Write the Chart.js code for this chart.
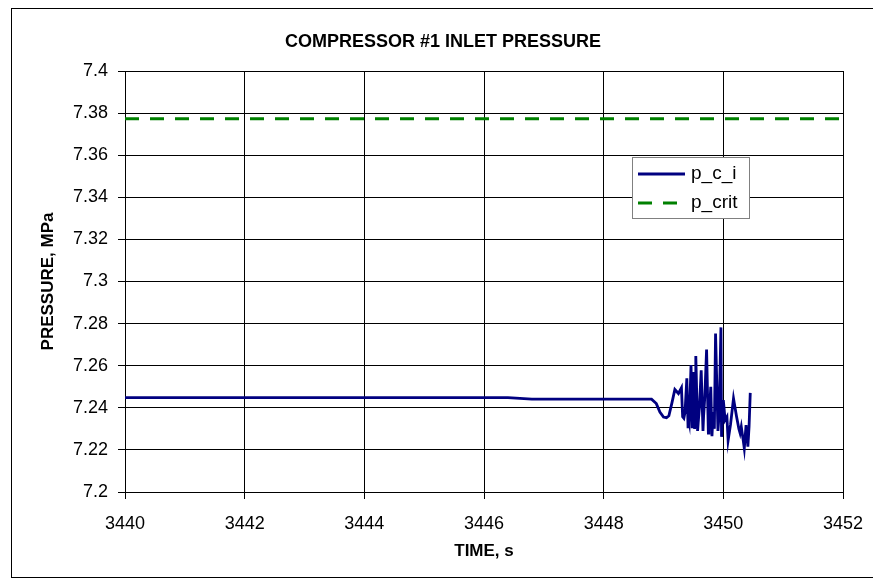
<!DOCTYPE html>
<html>
<head>
<meta charset="utf-8">
<title>Compressor #1 inlet pressure</title>
<script src="https://cdn.jsdelivr.net/npm/chart.js@4.4.1/dist/chart.umd.min.js"></script>
<style>
    html, body { margin: 0; padding: 0; background: #fff; }
    #wrap { width: 873px; height: 579px; }
</style>
</head>
<body>
<div id="wrap"><canvas id="pressureChart" width="873" height="579"></canvas></div>
<script>
const chartTitle = "COMPRESSOR #1 INLET PRESSURE";
const xTitle = "TIME, s";
const yTitle = "PRESSURE, MPa";

const xTicks = [3440, 3442, 3444, 3446, 3448, 3450, 3452];
const xTickLabels = ["3440", "3442", "3444", "3446", "3448", "3450", "3452"];
const yTicks = [7.2, 7.22, 7.24, 7.26, 7.28, 7.3, 7.32, 7.34, 7.36, 7.38, 7.4];
const yTickLabels = ["7.2", "7.22", "7.24", "7.26", "7.28", "7.3", "7.32", "7.34", "7.36", "7.38", "7.4"];

// p_c_i
const timeS = [3440, 3446.4, 3446.8, 3448.80, 3448.88, 3448.94, 3449.00, 3449.05, 3449.09, 3449.14, 3449.19,
    3449.25, 3449.30, 3449.32, 3449.34, 3449.36, 3449.39, 3449.41, 3449.42, 3449.43, 3449.46, 3449.48, 3449.49,
    3449.50, 3449.52, 3449.53, 3449.54, 3449.57, 3449.58, 3449.60, 3449.63, 3449.66, 3449.67, 3449.69, 3449.72,
    3449.75, 3449.76, 3449.79, 3449.81, 3449.83, 3449.85, 3449.87, 3449.91, 3449.93, 3449.96, 3449.97, 3450.00,
    3450.03, 3450.06, 3450.08, 3450.12, 3450.17, 3450.22, 3450.26, 3450.28, 3450.30, 3450.33, 3450.35, 3450.38,
    3450.41, 3450.43, 3450.45];
const pressureMPa = [7.2448, 7.2448, 7.2441, 7.2441, 7.2420, 7.2380, 7.2356, 7.2353, 7.2362, 7.2422, 7.2487,
    7.2468, 7.2495, 7.2357, 7.2350, 7.2380, 7.2540, 7.2310, 7.2345, 7.2330, 7.2603, 7.2310, 7.2360,
    7.2570, 7.2300, 7.2350, 7.2646, 7.2290, 7.2330, 7.2400, 7.2578, 7.2290, 7.2360, 7.2450, 7.2677,
    7.2280, 7.2340, 7.2500, 7.2265, 7.2380, 7.2300, 7.2753, 7.2290, 7.2370, 7.2782, 7.2262, 7.2437,
    7.2342, 7.2357, 7.2245, 7.2320, 7.2444, 7.2360, 7.2300, 7.2280, 7.2310, 7.2250, 7.2208, 7.2318,
    7.2215, 7.2310, 7.2471];

// p_crit
const critTimeS = [3440, 3452];
const critPressureMPa = [7.3773, 7.3773];

const fontFamily = "'Liberation Sans', Arial, sans-serif";

function toPoints(xs, ys) {
    return xs.map((x, i) => ({ x: x, y: ys[i] }));
}

// title, legend and outer frame drawn on top of the plot
const extrasPlugin = {
    id: 'extras',
    afterDraw(chart) {
        const c = chart.ctx;
        c.save();

        c.strokeStyle = "#000";
        c.lineWidth = 1;
        c.strokeRect(11.5, 8.5, 880, 569);

        c.fillStyle = "#000";
        c.font = "bold 18px " + fontFamily;
        c.textAlign = "center";
        c.textBaseline = "middle";
        c.fillText(chartTitle, 443, 42);

        // legend box
        const lx = 632, ly = 157, lw = 117, lh = 61;
        c.fillStyle = "#fff";
        c.fillRect(lx, ly, lw, lh);
        c.strokeStyle = "#808080";
        c.strokeRect(lx + 0.5, ly + 0.5, lw, lh);

        chart.data.datasets.forEach((ds, i) => {
            const y = 174 + i * 29;
            c.strokeStyle = ds.borderColor;
            c.lineWidth = ds.borderWidth;
            c.setLineDash(ds.borderDash || []);
            c.beginPath();
            c.moveTo(638, y);
            c.lineTo(685, y);
            c.stroke();
            c.setLineDash([]);
            c.fillStyle = "#000";
            c.font = "19px " + fontFamily;
            c.textAlign = "left";
            c.textBaseline = "middle";
            c.fillText(ds.label, 691, y);
        });
        c.restore();
    }
};

const ctx = document.getElementById('pressureChart').getContext('2d');
const pressureChart = new Chart(ctx, {
    type: 'scatter',
    data: {
        datasets: [{
            label: 'p_c_i',
            data: toPoints(timeS, pressureMPa),
            showLine: true,
            borderColor: '#000080',
            borderWidth: 2.8,
            pointRadius: 0,
            tension: 0
        }, {
            label: 'p_crit',
            data: toPoints(critTimeS, critPressureMPa),
            showLine: true,
            borderColor: '#008000',
            borderWidth: 3,
            borderDash: [14, 11],
            pointRadius: 0
        }]
    },
    options: {
        responsive: false,
        animation: false,
        layout: { padding: { top: 71, right: 30, bottom: 0, left: 0 } },
        plugins: {
            legend: { display: false },
            title: { display: false },
            tooltip: { enabled: false }
        },
        scales: {
            x: {
                type: 'linear',
                min: 3440,
                max: 3452,
                afterBuildTicks: s => { s.ticks = xTicks.map(v => ({ value: v })); },
                afterFit: s => { s.height = 87; s.paddingRight = 0; s.paddingLeft = 0; },
                ticks: {
                    callback: (v, i) => xTickLabels[i],
                    font: { family: fontFamily, size: 18 },
                    color: '#000',
                    padding: 14,
                    maxRotation: 0
                },
                grid: { color: '#000', tickColor: '#000', tickLength: 7 },
                border: { color: '#000' },
                title: {
                    display: true,
                    text: xTitle,
                    font: { family: fontFamily, size: 17, weight: 'bold' },
                    color: '#000',
                    padding: { top: 0, bottom: 17 }
                }
            },
            y: {
                min: 7.2,
                max: 7.4,
                afterBuildTicks: s => { s.ticks = yTicks.map(v => ({ value: v })); },
                afterFit: s => { s.width = 125; },
                ticks: {
                    callback: (v, i) => yTickLabels[i],
                    font: { family: fontFamily, size: 18 },
                    color: '#000',
                    padding: 10
                },
                grid: { color: '#000', tickColor: '#000', tickLength: 7 },
                border: { color: '#000' },
                title: {
                    display: true,
                    text: yTitle,
                    font: { family: fontFamily, size: 17, weight: 'bold' },
                    color: '#000',
                    padding: { top: 38, bottom: 0 }
                }
            }
        }
    },
    plugins: [extrasPlugin]
});
</script>
</body>
</html>
